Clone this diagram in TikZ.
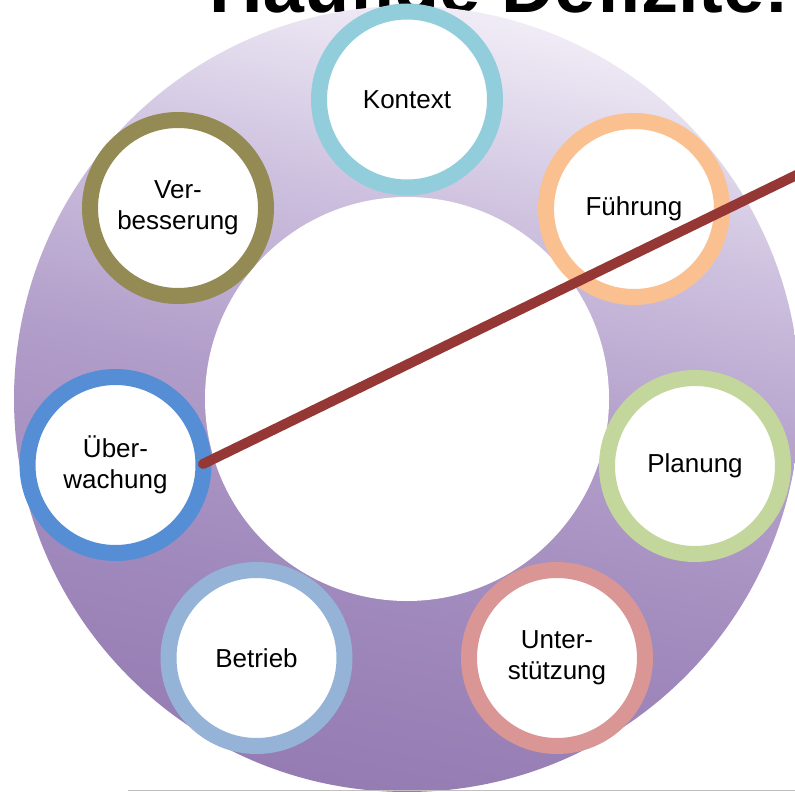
\documentclass[tikz,border=0pt]{standalone}
\usepackage{fontspec}
\setmainfont{Liberation Sans}
\definecolor{rA}{RGB}{240,236,246}
\definecolor{rB}{RGB}{206,193,223}
\definecolor{rC}{RGB}{178,158,202}
\definecolor{rD}{RGB}{160,137,188}
\definecolor{rE}{RGB}{149,124,179}
\definecolor{cKontext}{RGB}{146,205,220}
\definecolor{cFuehrung}{RGB}{250,192,144}
\definecolor{cPlanung}{RGB}{195,214,155}
\definecolor{cUnter}{RGB}{217,150,148}
\definecolor{cBetrieb}{RGB}{149,179,215}
\definecolor{cUeber}{RGB}{85,142,213}
\definecolor{cVerb}{RGB}{148,138,84}
\definecolor{cLine}{RGB}{149,55,53}
\pgfdeclareverticalshading{ringshade}{100bp}{%
  color(0bp)=(rE); color(25bp)=(rE); color(37bp)=(rD); color(50bp)=(rC); color(62.5bp)=(rB); color(75bp)=(rA); color(100bp)=(rA)}
\tikzset{
  stage/.style={circle, fill=white, line width=16pt, minimum size=176pt, inner sep=0pt,
    align=center, font=\fontsize{26}{31}\selectfont, text=black},
}
\begin{document}
\begin{tikzpicture}[x=1pt,y=-1pt]
\clip (0,0) rectangle (795,792);
\useasboundingbox (0,0) rectangle (795,792);
\fill[white] (0,0) rectangle (795,792);
% title
\node[anchor=base west, inner sep=0pt, font=\bfseries\fontsize{74}{80}\selectfont] (title) at (209.5,13) {Häufige Defizite:};
% ring
\coordinate (c) at (407,399);
\shade[shading=ringshade, shading angle=-12] (c) circle[radius=393pt];
\fill[white] (c) circle[radius=202pt];
% stages
\node[stage, draw=cKontext] (kontext) at (407,99.5) {Kontext};
\node[stage, draw=cFuehrung] (fuehrung) at (634,209) {Führung};
\node[stage, draw=cPlanung] (planung) at (695,466) {Planung};
\node[stage, draw=cUnter] (unter) at (557,658) {Unter-\\stützung};
\node[stage, draw=cBetrieb] (betrieb) at (256.5,658) {Betrieb};
\node[stage, draw=cUeber] (ueber) at (115.5,465) {Über-\\wachung};
\node[stage, draw=cVerb] (verb) at (178,208) {Ver-\\besserung};
% strike line
\coordinate (ls) at (203,464);
\coordinate (le) at (815,166);
\draw[cLine, line width=10pt, line cap=round] (ls) -- (le);
% bottom rule
\coordinate (bl) at (128,790.5);
\coordinate (br) at (795,790.5);
\draw[black!25, line width=1.2pt] (bl) -- (br);
\end{tikzpicture}
\end{document}
